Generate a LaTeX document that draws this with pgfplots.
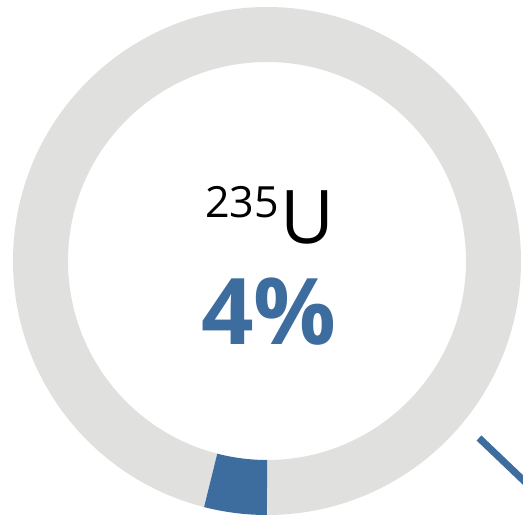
\documentclass[border=0pt]{standalone}
\usepackage{pgfplots}
\pgfplotsset{compat=1.18}
\usepackage{pgfplotstable}
\usepackage{fontspec}
\setmainfont{Open Sans}
\definecolor{ringgray}{RGB}{224,224,223}
\definecolor{ublue}{RGB}{61,108,158}
\pgfplotstableread{
share
4
96
}\slices
\pgfplotstableread{
x y
479 84
540 25.8
}\connector
\begin{document}
\begin{tikzpicture}
\pgfplotstablegetelem{0}{share}\of\slices
\let\ushare\pgfplotsretval
\pgfmathsetmacro{\astart}{270-3.6*\ushare}
\pgfmathsetmacro{\gend}{\astart+360}
\begin{axis}[scale only axis, width=523bp, height=522bp,
  xmin=0, xmax=523, ymin=0, ymax=522, hide axis, clip=true]
\path (axis cs:0,0) rectangle (axis cs:523,522);
\draw[ringgray, line width=55bp] (axis cs:267,261) ++(270:226.5bp)
  arc[start angle=270, end angle=\gend, radius=226.5bp];
\draw[ublue, line width=55bp] (axis cs:267,261) ++(\astart:226.5bp)
  arc[start angle=\astart, end angle=270, radius=226.5bp];
\addplot[ublue, line width=7bp, no marks] table[x=x,y=y] {\connector};
\node[anchor=base east, inner sep=0pt, font=\fontsize{43bp}{43bp}\selectfont] at (axis cs:279,304) {235};
\node[anchor=base west, inner sep=0pt, font=\fontsize{74bp}{74bp}\selectfont] at (axis cs:280,278) {U};
\node[anchor=base, inner sep=0pt, text=ublue, font=\fontsize{92bp}{92bp}\selectfont\bfseries] at (axis cs:269,177) {\ushare\%};
\end{axis}
\end{tikzpicture}
\end{document}
